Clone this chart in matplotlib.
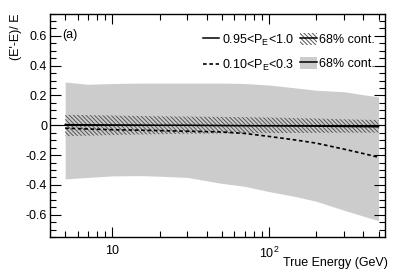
import numpy as np
import matplotlib
matplotlib.use("Agg")
import matplotlib.pyplot as plt
from matplotlib.patches import Patch
from matplotlib.lines import Line2D
from matplotlib.ticker import FixedLocator, NullFormatter, MultipleLocator

plt.rcParams['font.family'] = ['Liberation Sans', 'DejaVu Sans']
plt.rcParams['hatch.linewidth'] = 0.7
plt.rcParams['hatch.color'] = '#555555'
plt.rcParams['mathtext.fontset'] = 'custom'
plt.rcParams['mathtext.rm'] = 'Liberation Sans'
plt.rcParams['mathtext.it'] = 'Liberation Sans'

energy = [5, 7, 10, 15, 20, 30, 50, 70, 100, 150, 200, 300, 400, 500]
gray_hi = [0.29, 0.275, 0.28, 0.283, 0.283, 0.283, 0.283, 0.28, 0.27, 0.25, 0.235, 0.225, 0.205, 0.19]
gray_lo = [-0.36, -0.35, -0.34, -0.338, -0.342, -0.35, -0.39, -0.41, -0.445, -0.48, -0.51, -0.57, -0.61, -0.64]
hatch_hi = [0.07, 0.068, 0.065, 0.062, 0.06, 0.058, 0.056, 0.054, 0.052, 0.048, 0.045, 0.04, 0.037, 0.035]
hatch_lo = [-0.073, -0.07, -0.066, -0.062, -0.06, -0.057, -0.055, -0.054, -0.053, -0.052, -0.051, -0.05, -0.05, -0.05]
solid_mean = [0.004, 0.003, 0.002, 0.001, 0.0, 0.0, -0.002, -0.003, -0.004, -0.005, -0.006, -0.008, -0.009, -0.01]
dashed_mean = [-0.02, -0.025, -0.03, -0.033, -0.036, -0.04, -0.045, -0.055, -0.075, -0.1, -0.12, -0.16, -0.19, -0.215]

HATCH = '\\' * 8
DASH = (0, (2.2, 1.6))

fig = plt.figure(figsize=(3.99, 2.73), dpi=100)
ax = fig.add_axes([50/399, 1-237/273, (385-50)/399, (237-13.5)/273])

ax.fill_between(energy, gray_lo, gray_hi, color='#cccccc', lw=0, zorder=1)
ax.fill_between(energy, hatch_lo, hatch_hi, facecolor='none', edgecolor='#555555', hatch=HATCH, lw=0, zorder=2)
ax.axhline(0, color='black', lw=0.8, zorder=3)
ax.plot(energy, solid_mean, color='black', lw=1.1, zorder=4)
ax.plot(energy, dashed_mean, color='black', lw=1.2, ls=DASH, zorder=4)

ax.set_xscale('log')
ax.set_xlim(4.0, 550)
ax.set_ylim(-0.75, 0.75)

ax.xaxis.set_major_locator(FixedLocator([10, 100]))
ax.set_xticklabels(['10', r'$10^2$'])
ax.xaxis.set_minor_locator(FixedLocator([5, 6, 7, 8, 9, 20, 30, 40, 50, 60, 70, 80, 90, 200, 300, 400, 500]))
ax.xaxis.set_minor_formatter(NullFormatter())
ax.yaxis.set_major_locator(FixedLocator([-0.6, -0.4, -0.2, 0, 0.2, 0.4, 0.6]))
ax.set_yticklabels(['-0.6', '-0.4', '-0.2', '0', '0.2', '0.4', '0.6'])
ax.yaxis.set_minor_locator(MultipleLocator(0.05))

ax.tick_params(which='both', direction='in', top=True, right=True, labelsize=9, width=0.8)
ax.tick_params(axis='y', which='major', length=8, pad=2)
ax.tick_params(axis='y', which='minor', length=4)
ax.tick_params(axis='x', which='major', length=7, pad=6)
ax.tick_params(axis='x', which='minor', length=4)
for s in ax.spines.values():
    s.set_linewidth(1.0)

ax.set_xlabel('True Energy (GeV)', fontsize=9, loc='right')
ax.xaxis.set_label_coords(1.01, -0.09)
ax.set_ylabel("(E'-E)/ E", fontsize=9, loc='top', labelpad=3)

ax.text(0.036, 0.93, '(a)', transform=ax.transAxes, fontsize=9, va='top', ha='left')

h_solid = Line2D([], [], color='black', lw=1.1)
h_dash = Line2D([], [], color='black', lw=1.2, ls=DASH)
h_hatch = (Patch(facecolor='none', edgecolor='#555555', hatch=HATCH, lw=0), Line2D([], [], color='black', lw=1.1))
h_gray = (Patch(facecolor='#cccccc', lw=0), Line2D([], [], color='black', lw=1.1))
leg = ax.legend([h_solid, h_dash, h_hatch, h_gray],
                [r'0.95<P$_{\mathrm{E}}$<1.0', r'0.10<P$_{\mathrm{E}}$<0.3', '68% cont.', '68% cont.'],
                ncol=2, frameon=False, fontsize=9, loc='upper right', bbox_to_anchor=(0.97, 0.915),
                handlelength=1.3, handleheight=1.1, handletextpad=0.2, columnspacing=0.5,
                labelspacing=0.85, borderaxespad=0, borderpad=0)

fig.savefig('out.png', dpi=100)
